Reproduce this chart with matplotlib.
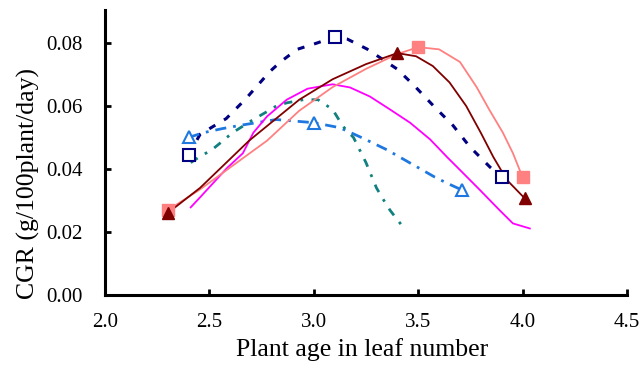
import matplotlib
matplotlib.use("Agg")
import matplotlib.pyplot as plt

plt.rcParams["font.family"] = ["Liberation Serif", "DejaVu Serif"]

# ── Measured points (markers) ────────────────────────────────────────────────
navy_x = [2.40, 3.10, 3.90]
navy_y = [0.0445, 0.0820, 0.0374]
lblue_x = [2.40, 3.00, 3.71]
lblue_y = [0.0500, 0.0547, 0.0333]
salmon_x = [2.30, 3.50, 4.00]
salmon_y = [0.0269, 0.0787, 0.0374]
dred_x = [2.30, 3.40, 4.01]
dred_y = [0.0260, 0.0768, 0.0307]

# ── Smoothed curves ──────────────────────────────────────────────────────────
navy_cx = [2.40, 2.455, 2.58, 2.67, 2.71, 2.79, 2.84, 2.92, 3.015, 3.10,
           3.159, 3.255, 3.40, 3.485, 3.571, 3.667, 3.748, 3.844, 3.90]
navy_cy = [0.0445, 0.051, 0.056, 0.062, 0.065, 0.071, 0.074, 0.078, 0.080, 0.082,
           0.0813, 0.0781, 0.0717, 0.0662, 0.0602, 0.0538, 0.0470, 0.0406, 0.0374]

lblue_cx = [2.40, 2.47, 2.56, 2.66, 2.82, 3.00, 3.125, 3.231, 3.35, 3.461,
            3.58, 3.638, 3.71]
lblue_cy = [0.0500, 0.0515, 0.0528, 0.0540, 0.0557, 0.0547, 0.0531, 0.0499,
            0.0461, 0.0419, 0.0374, 0.0355, 0.0333]

teal_cx = [2.41, 2.455, 2.51, 2.56, 2.61, 2.71, 2.77, 2.82, 2.87, 2.95, 3.02,
           3.09, 3.14, 3.19, 3.22, 3.25, 3.30, 3.33, 3.365, 3.42]
teal_cy = [0.042, 0.044, 0.046, 0.0487, 0.0515, 0.0557, 0.058, 0.060, 0.061,
           0.062, 0.062, 0.0589, 0.0535, 0.050, 0.046, 0.042, 0.034, 0.0306,
           0.0269, 0.0222]

mag_cx = [2.41, 2.455, 2.584, 2.66, 2.71, 2.776, 2.87, 2.97, 3.09, 3.173,
          3.269, 3.365, 3.461, 3.557, 3.638, 3.70, 3.796, 3.89, 3.954, 4.035]
mag_cy = [0.0278, 0.031, 0.0403, 0.045, 0.0515, 0.0567, 0.062, 0.0655, 0.0669,
          0.0659, 0.0630, 0.0589, 0.0547, 0.0494, 0.0438, 0.0397, 0.0333,
          0.0269, 0.0227, 0.0211]

salmon_cx = [2.30, 2.455, 2.61, 2.776, 2.93, 3.09, 3.25, 3.40, 3.50, 3.60,
             3.70, 3.78, 3.84, 3.906, 3.954, 4.00]
salmon_cy = [0.0269, 0.0335, 0.041, 0.049, 0.0585, 0.066, 0.0718, 0.0765,
             0.0787, 0.0780, 0.0740, 0.0660, 0.0589, 0.0515, 0.0450, 0.0374]

dred_cx = [2.30, 2.455, 2.69, 2.93, 3.09, 3.25, 3.40, 3.49, 3.57, 3.65, 3.73,
           3.80, 3.86, 3.925, 4.01]
dred_cy = [0.0260, 0.0340, 0.049, 0.062, 0.0685, 0.0733, 0.0768, 0.0758,
           0.0727, 0.0675, 0.060, 0.0515, 0.0438, 0.0365, 0.0307]

x_ticks = [2.0, 2.5, 3.0, 3.5, 4.0, 4.5]
y_ticks = [0.00, 0.02, 0.04, 0.06, 0.08]

fig = plt.figure(figsize=(6.41, 3.70), dpi=100)
ax = fig.add_axes([0.164, 0.203, 0.814, 0.770])

# curves
ax.plot(navy_cx, navy_cy, color="#000080", lw=2.2, ls=(0, (2.3, 3.3)))
ax.plot(lblue_cx, lblue_cy, color="#1E78E0", lw=2.0, ls=(0, (4, 2.5, 1, 2.5)))
ax.plot(teal_cx, teal_cy, color="#138080", lw=2.0, ls=(0, (3, 3, 1, 3)))
ax.plot(mag_cx, mag_cy, color="#FF00FF", lw=1.3)
ax.plot(salmon_cx, salmon_cy, color="#FF8080", lw=1.3)
ax.plot(dred_cx, dred_cy, color="#800000", lw=1.3)

# markers
ax.plot(navy_x, navy_y, ls="none", marker="s", ms=9, mfc="white",
        mec="#000080", mew=1.5)
ax.plot(lblue_x, lblue_y, ls="none", marker="^", ms=9, mfc="white",
        mec="#1E78E0", mew=1.5)
ax.plot(salmon_x, salmon_y, ls="none", marker="s", ms=9, color="#FF8080")
ax.plot(dred_x, dred_y, ls="none", marker="^", ms=9, color="#800000")

ax.set_xlim(2.0, 4.5)
ax.set_ylim(0, 0.0905)
ax.set_xticks(x_ticks)
ax.set_xticklabels([f"{v:.1f}" for v in x_ticks])
ax.set_yticks(y_ticks)
ax.set_yticklabels([f"{v:.2f}" for v in y_ticks])
ax.tick_params(direction="in", length=4, width=2, labelsize=15)
ax.tick_params(axis="x", pad=13)
ax.tick_params(axis="y", pad=16)

for side in ["top", "right"]:
    ax.spines[side].set_visible(False)
for side in ["left", "bottom"]:
    ax.spines[side].set_linewidth(2.2)

ax.set_xlabel("Plant age in leaf number", fontsize=18.5)
ax.set_ylabel("CGR (g/100plant/day)", fontsize=18.5)
ax.xaxis.set_label_coords(0.492, -0.152)
ax.yaxis.set_label_coords(-0.125, 0.39)

plt.savefig("out.png", dpi=100)
plt.close()
